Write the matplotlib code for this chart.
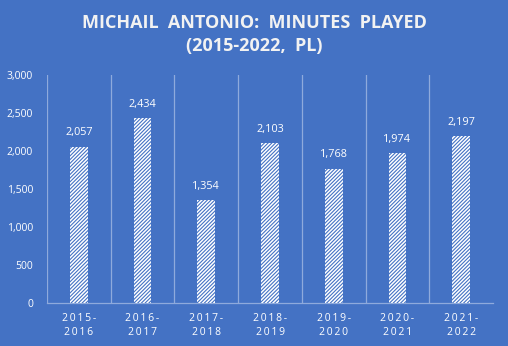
import matplotlib.pyplot as plt
import numpy as np

seasons = ["2015-\n2016", "2016-\n2017", "2017-\n2018", "2018-\n2019",
           "2019-\n2020", "2020-\n2021", "2021-\n2022"]
minutes = [2057, 2434, 1354, 2103, 1768, 1974, 2197]
y_ticks = [0, 500, 1000, 1500, 2000, 2500, 3000]

BG = "#4472C4"
LINE = "#8FAADC"
FONT = ["Open Sans", "DejaVu Sans"]

plt.rcParams["hatch.linewidth"] = 0.8

fig = plt.figure(figsize=(5.08, 3.46), dpi=100, facecolor=BG)
ax = fig.add_axes([47 / 508, 1 - 303 / 346, (493 - 47) / 508, (303 - 75) / 346])
ax.set_facecolor(BG)

x = np.arange(len(minutes))
ax.bar(x, minutes, width=0.28, color="white", edgecolor=BG, linewidth=0,
       hatch="/////////", zorder=3)

for xi, v in zip(x, minutes):
    ax.text(xi, v + 110, f"{v:,}", ha="center", va="bottom", color="white",
            fontsize=7.8, family=FONT)

ax.set_xlim(-0.5, len(minutes) - 0.5)
ax.set_ylim(0, 3000)
ax.set_yticks(y_ticks)
ax.set_yticklabels([f"{t:,}" for t in y_ticks], color="white", fontsize=7.5,
                   family=FONT)
ax.set_xticks(x)
spaced = ["\u2009".join(list(s)).replace("\u2009\n\u2009", "\n") for s in seasons]
ax.set_xticklabels(spaced, color="white", fontsize=7.5, family=FONT,
                   linespacing=1.35)
ax.tick_params(axis="both", length=0, pad=7)
ax.tick_params(axis="y", pad=10)

# category separators
for b in np.arange(-0.5, len(minutes) - 0.5, 1.0):
    ax.axvline(b, color=LINE, linewidth=0.9, zorder=1)

for s in ["top", "right", "left"]:
    ax.spines[s].set_visible(False)
ax.spines["bottom"].set_color(LINE)
ax.spines["bottom"].set_linewidth(0.9)

fig.text(0.5, 0.96, "MICHAIL  ANTONIO:  MINUTES  PLAYED\n(2015-2022,  PL)",
         ha="center", va="top", color="#F2F2F2", fontsize=13, fontweight="bold",
         family=FONT, linespacing=1.4)

fig.savefig("out.png", dpi=100, facecolor=BG)
